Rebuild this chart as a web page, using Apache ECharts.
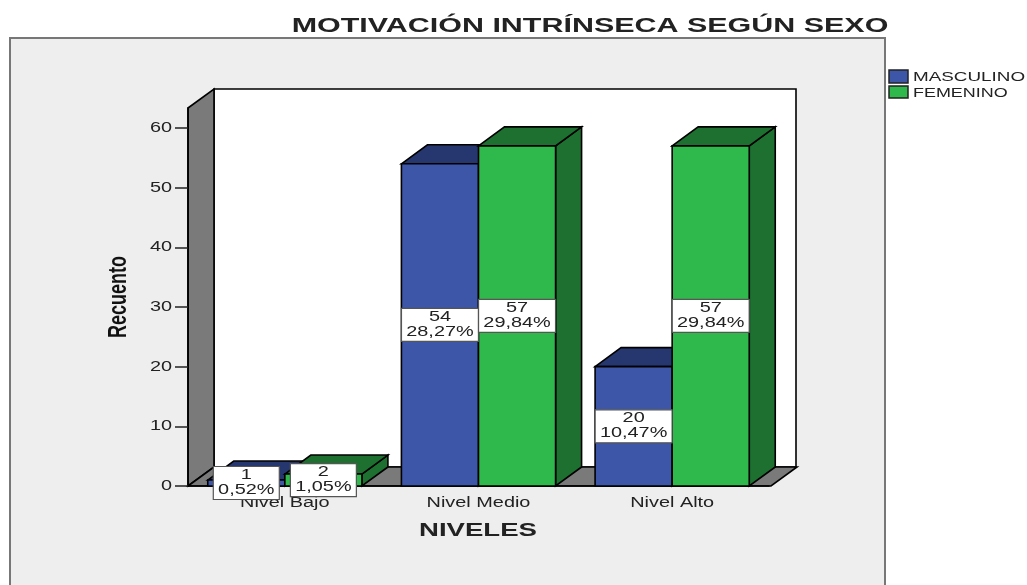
<!DOCTYPE html>
<html>
<head>
<meta charset="utf-8">
<style>
  html, body { margin: 0; padding: 0; background: #fff; }
  #chart { width: 1027px; height: 585px; }
</style>
</head>
<body>
<div id="chart"></div>
<script src="https://cdn.jsdelivr.net/npm/echarts@6/dist/echarts.min.js"></script>
<script>
  // datos
  const categories = ['Nivel Bajo', 'Nivel Medio', 'Nivel Alto'];
  const masculino = [1, 54, 20];
  const femenino = [2, 57, 57];
  const masculinoPct = ['0,52%', '28,27%', '10,47%'];
  const femeninoPct = ['1,05%', '29,84%', '29,84%'];
  const yTicks = [0, 10, 20, 30, 40, 50, 60];

  const GRID = { left: 188, top: 108, width: 581, height: 378 };
  const FLOOR_W = 583;
  const DX = 26; // profundidad 3D
  const DY = 19;
  const BAR_RATIO = 0.398;
  const STRETCH = 1.42; // la imagen original esta estirada a lo ancho
  const TEXT = '#222';
  const FONT = '"Liberation Sans", Arial, sans-serif';

  const BLUE = { front: '#3d56a8', top: '#26376f', side: '#26376f' };
  const GREEN = { front: '#2fb84b', top: '#1d702f', side: '#1d702f' };

  const label = (x, y, text, size, extra) => ({
    type: 'text',
    x: x,
    y: y,
    scaleX: STRETCH,
    silent: true,
    style: Object.assign({
      text: text,
      font: size + 'px ' + FONT,
      fill: TEXT,
      align: 'center',
      verticalAlign: 'middle',
    }, extra),
  });

  const poly = (points, fill) => ({
    type: 'polygon',
    shape: { points: points },
    style: { fill: fill, stroke: '#000', lineWidth: 1.6 },
  });

  // barra 3D: side -1 a la izquierda del tick, +1 a la derecha
  const bar3d = (side, colors) => (params, api) => {
    const cat = api.value(0);
    const base = api.coord([cat, 0]);
    const top = api.coord([cat, api.value(1)]);
    const w = api.size([1, 0])[0] * BAR_RATIO;
    const x0 = side < 0 ? base[0] - w : base[0];
    const x1 = x0 + w;
    return {
      type: 'group',
      children: [
        poly([[x1, top[1]], [x1 + DX, top[1] - DY], [x1 + DX, base[1] - DY], [x1, base[1]]], colors.side),
        poly([[x0, top[1]], [x0 + DX, top[1] - DY], [x1 + DX, top[1] - DY], [x1, top[1]]], colors.top),
        poly([[x0, top[1]], [x1, top[1]], [x1, base[1]], [x0, base[1]]], colors.front),
      ],
    };
  };

  // caja blanca con recuento y porcentaje, centrada en la cara frontal
  const valueBox = (side, pcts) => (params, api) => {
    const cat = api.value(0);
    const base = api.coord([cat, 0]);
    const top = api.coord([cat, api.value(1)]);
    const w = api.size([1, 0])[0] * BAR_RATIO;
    const cx = base[0] + side * w / 2;
    const cy = (base[1] + top[1]) / 2;
    const pct = pcts[cat];
    const bw = pct.length * 11 + 11;
    return {
      type: 'group',
      children: [
        {
          type: 'rect',
          shape: { x: cx - bw / 2, y: cy - 16.5, width: bw, height: 33 },
          style: { fill: '#fff', stroke: '#555', lineWidth: 1.2 },
        },
        label(cx, cy - 8, String(api.value(1)), 14),
        label(cx, cy + 7, pct, 14),
      ],
    };
  };

  const option = {
    animation: false,
    backgroundColor: '#fff',
    tooltip: { show: false },
    grid: GRID,
    xAxis: {
      type: 'category',
      data: categories,
      axisLine: { lineStyle: { color: '#000', width: 1.6 } },
      axisTick: { alignWithLabel: true, length: 8, lineStyle: { color: '#222', width: 1.5 } },
      axisLabel: { show: false },
    },
    yAxis: {
      type: 'value',
      min: 0,
      max: 63.35,
      interval: 10,
      splitLine: { show: false },
      axisLine: { show: true, lineStyle: { color: '#000', width: 1.6 } },
      axisTick: { show: true, length: 13, customValues: yTicks, lineStyle: { color: '#222', width: 1.5 } },
      axisLabel: { show: false },
    },
    series: [
      {
        name: 'MASCULINO',
        type: 'custom',
        z: 3,
        data: masculino.map((v, i) => [i, v]),
        encode: { x: 0, y: 1 },
        renderItem: bar3d(-1, BLUE),
      },
      {
        name: 'FEMENINO',
        type: 'custom',
        z: 4,
        data: femenino.map((v, i) => [i, v]),
        encode: { x: 0, y: 1 },
        renderItem: bar3d(1, GREEN),
      },
      {
        type: 'custom',
        z: 5,
        data: masculino.map((v, i) => [i, v]),
        encode: { x: 0, y: 1 },
        renderItem: valueBox(-1, masculinoPct),
      },
      {
        type: 'custom',
        z: 5,
        data: femenino.map((v, i) => [i, v]),
        encode: { x: 0, y: 1 },
        renderItem: valueBox(1, femeninoPct),
      },
      {
        // etiquetas del eje Y
        type: 'custom',
        z: 6,
        data: yTicks.map((t) => [0, t]),
        encode: { x: 0, y: 1 },
        renderItem: (params, api) => {
          const p = api.coord([0, api.value(1)]);
          return label(GRID.left - 16, p[1], String(api.value(1)), 14, { align: 'right' });
        },
      },
      {
        // etiquetas del eje X
        type: 'custom',
        z: 4,
        data: categories.map((c, i) => [i, 0]),
        encode: { x: 0, y: 1 },
        renderItem: (params, api) => {
          const p = api.coord([api.value(0), 0]);
          return label(p[0], p[1] + 17, categories[api.value(0)], 14);
        },
      },
    ],
    graphic: {
      elements: [
        // panel gris de fondo
        {
          type: 'rect', z: -10,
          shape: { x: 10, y: 38, width: 875, height: 560 },
          style: { fill: '#eeeeee', stroke: '#777', lineWidth: 2 },
        },
        // pared trasera
        {
          type: 'rect', z: -9,
          shape: { x: GRID.left + DX, y: GRID.top - DY, width: FLOOR_W - 1, height: GRID.height },
          style: { fill: '#fff', stroke: '#000', lineWidth: 1.6 },
        },
        // pared izquierda
        {
          type: 'polygon', z: -8,
          shape: { points: [[GRID.left, GRID.top], [GRID.left + DX, GRID.top - DY], [GRID.left + DX, GRID.top - DY + GRID.height], [GRID.left, GRID.top + GRID.height]] },
          style: { fill: '#7a7a7a', stroke: '#000', lineWidth: 1.6 },
        },
        // suelo
        {
          type: 'polygon', z: -8,
          shape: { points: [[GRID.left, GRID.top + GRID.height], [GRID.left + DX, GRID.top - DY + GRID.height], [GRID.left + FLOOR_W + DX, GRID.top - DY + GRID.height], [GRID.left + FLOOR_W, GRID.top + GRID.height]] },
          style: { fill: '#7a7a7a', stroke: '#000', lineWidth: 1.6 },
        },
        // titulo y nombres de ejes
        Object.assign(label(590, 26, 'MOTIVACIÓN INTRÍNSECA SEGÚN SEXO', 21, { font: 'bold 21px ' + FONT }), { z: 10, scaleX: 1.45 }),
        Object.assign(label(478, 531, 'NIVELES', 19, { font: 'bold 19px ' + FONT }), { z: 10, scaleX: 1.45 }),
        {
          type: 'text', z: 10,
          x: 119, y: 297,
          rotation: Math.PI / 2,
          scaleY: STRETCH,
          style: { text: 'Recuento', font: 'bold 18px ' + FONT, fill: '#111', align: 'center', verticalAlign: 'middle' },
        },
        // leyenda
        {
          type: 'rect', z: 10,
          shape: { x: 889, y: 70, width: 19, height: 13 },
          style: { fill: BLUE.front, stroke: '#222', lineWidth: 1.5 },
        },
        {
          type: 'rect', z: 10,
          shape: { x: 889, y: 86, width: 19, height: 12 },
          style: { fill: GREEN.front, stroke: '#222', lineWidth: 1.5 },
        },
        Object.assign(label(913, 77.5, 'MASCULINO', 13, { align: 'left' }), { z: 10, scaleX: 1.45 }),
        Object.assign(label(913, 93, 'FEMENINO', 13, { align: 'left' }), { z: 10, scaleX: 1.38 }),
      ],
    },
  };

  const myChart = echarts.init(document.getElementById('chart'));
  myChart.setOption(option);
</script>
</body>
</html>
